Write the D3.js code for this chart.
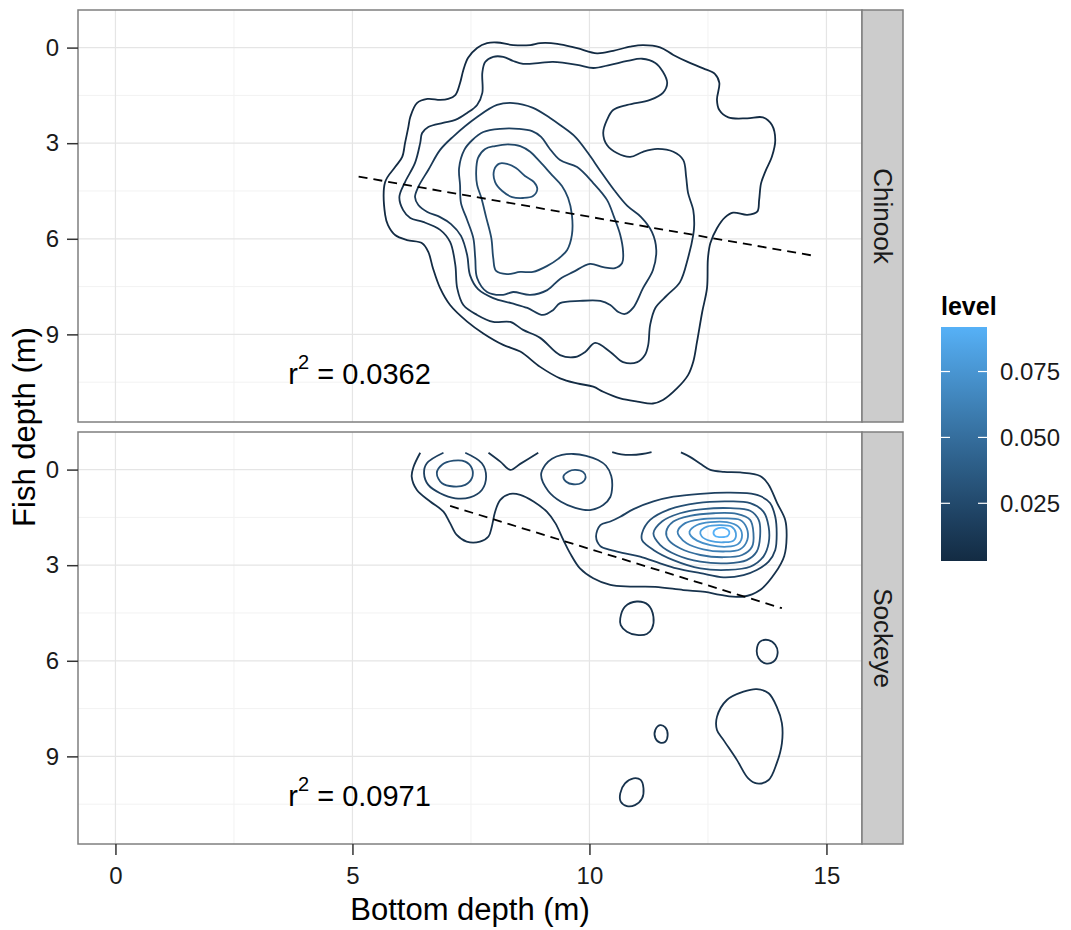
<!DOCTYPE html>
<html>
<head>
<meta charset="utf-8">
<script src="https://cdn.jsdelivr.net/npm/d3@7"></script>
<style>
  body { margin: 0; background: #fff; }
  svg text { font-family: "Liberation Sans", Arial, sans-serif; }
</style>
</head>
<body>
<div id="chart"></div>
<script>
// tick values
const xTicks = [0, 5, 10, 15];
const xMinor = [2.5, 7.5, 12.5];
const yTicks = [0, 3, 6, 9];
const yMinor = [1.5, 4.5, 7.5, 10.5];
const levelBreaks = [0.025, 0.05, 0.075];

// Chinook contour rings, [bottom depth, fish depth]
const chinook_005 = [[5.69,5.25],[5.69,4.22],[5.90,3.75],[6.05,3.43],[6.11,2.99],[6.18,2.49],[6.22,2.18],[6.36,1.74],[6.58,1.61],[6.85,1.64],[7.02,1.61],[7.17,1.49],[7.27,1.11],[7.34,0.70],[7.44,0.32],[7.63,0.01],[7.84,-0.14],[8.05,-0.16],[8.39,-0.08],[8.75,-0.08],[8.96,-0.14],[9.32,-0.12],[9.74,0.02],[10.16,0.18],[10.50,0.10],[10.86,-0.03],[11.13,-0.08],[11.49,-0.01],[11.77,0.23],[12.06,0.44],[12.40,0.65],[12.65,0.83],[12.74,1.11],[12.69,1.64],[12.74,1.96],[12.93,2.19],[13.33,2.22],[13.66,2.19],[13.85,2.43],[13.92,2.90],[13.85,3.42],[13.71,3.89],[13.62,4.26],[13.58,4.78],[13.54,5.15],[13.33,5.25],[13.03,5.18],[12.86,5.33],[12.69,5.67],[12.55,6.14],[12.50,6.61],[12.48,7.55],[12.38,8.29],[12.27,9.23],[12.19,9.86],[12.08,10.28],[11.85,10.69],[11.55,11.06],[11.34,11.17],[11.01,11.11],[10.65,11.01],[10.29,10.80],[10.08,10.64],[9.74,10.54],[9.38,10.38],[8.96,10.02],[8.54,9.54],[8.18,9.33],[7.76,8.97],[7.42,8.60],[7.06,8.08],[6.85,7.55],[6.70,6.93],[6.60,6.41],[6.47,6.14],[6.15,6.04],[5.90,5.88],[5.75,5.57]];
const chinook_010 = [[5.99,4.69],[6.11,4.22],[6.32,3.62],[6.43,2.99],[6.47,2.68],[6.60,2.49],[6.91,2.36],[7.17,2.27],[7.42,2.05],[7.63,1.80],[7.74,1.42],[7.74,0.79],[7.80,0.45],[7.97,0.29],[8.18,0.29],[8.39,0.42],[8.60,0.51],[8.96,0.48],[9.23,0.45],[9.74,0.54],[10.08,0.64],[10.44,0.54],[10.80,0.42],[11.11,0.35],[11.39,0.48],[11.55,0.76],[11.64,1.11],[11.55,1.42],[11.28,1.64],[10.80,1.80],[10.50,1.96],[10.37,2.27],[10.29,2.68],[10.37,3.06],[10.58,3.31],[10.86,3.43],[11.13,3.27],[11.43,3.18],[11.77,3.27],[11.98,3.53],[12.04,4.06],[12.08,4.56],[12.19,5.10],[12.21,5.57],[12.19,5.88],[12.08,6.60],[11.91,7.36],[11.64,7.77],[11.39,8.17],[11.28,8.71],[11.24,9.33],[11.17,9.65],[11.01,9.87],[10.71,9.87],[10.44,9.55],[10.12,9.27],[9.91,9.55],[9.70,9.71],[9.38,9.65],[8.96,9.11],[8.60,8.86],[8.33,8.61],[7.97,8.61],[7.63,8.39],[7.34,8.08],[7.21,7.55],[7.17,6.82],[7.06,6.10],[6.85,5.72],[6.49,5.47],[6.22,5.35],[6.07,5.10]];
const chinook_015 = [[6.32,4.69],[6.39,4.37],[6.60,3.84],[6.85,3.21],[7.12,2.80],[7.63,2.18],[8.05,1.80],[8.39,1.74],[8.81,1.89],[9.17,2.21],[9.38,2.43],[9.70,2.80],[9.97,3.31],[10.23,3.87],[10.52,4.47],[10.80,4.97],[11.09,5.32],[11.32,5.79],[11.41,6.35],[11.34,6.98],[11.13,7.55],[10.92,8.17],[10.75,8.36],[10.61,8.30],[10.44,8.08],[10.23,7.95],[9.80,7.95],[9.38,8.02],[9.23,8.24],[9.02,8.39],[8.69,8.17],[8.35,8.02],[7.97,7.86],[7.65,7.58],[7.48,7.14],[7.42,6.51],[7.29,5.91],[7.08,5.54],[6.85,5.32],[6.58,5.16],[6.39,4.94]];
const chinook_020 = [[7.27,4.31],[7.25,3.78],[7.36,3.21],[7.53,2.90],[7.76,2.65],[8.12,2.55],[8.50,2.55],[8.79,2.62],[8.98,2.80],[9.15,3.15],[9.38,3.53],[9.74,3.75],[10.08,4.25],[10.37,4.78],[10.52,5.32],[10.65,5.88],[10.71,6.41],[10.69,6.76],[10.54,6.92],[10.29,6.89],[10.01,6.79],[9.66,7.04],[9.38,7.26],[9.11,7.61],[8.75,7.76],[8.39,7.67],[8.18,7.76],[7.84,7.67],[7.63,7.23],[7.59,6.60],[7.55,5.98],[7.42,5.41],[7.29,4.88]];
const chinook_025 = [[7.61,3.90],[7.65,3.46],[7.80,3.18],[8.01,3.09],[8.28,3.04],[8.54,3.09],[8.75,3.27],[8.96,3.59],[9.21,4.00],[9.42,4.34],[9.55,4.72],[9.63,5.25],[9.63,5.88],[9.53,6.35],[9.34,6.63],[9.11,6.85],[8.81,7.04],[8.54,7.04],[8.26,7.11],[8.03,7.01],[7.97,6.60],[7.93,5.98],[7.82,5.32],[7.72,4.72],[7.63,4.31]];
const chinook_030 = [[7.99,3.84],[8.10,3.64],[8.26,3.65],[8.45,3.78],[8.64,4.03],[8.83,4.22],[8.90,4.44],[8.81,4.66],[8.60,4.72],[8.37,4.69],[8.16,4.50],[8.01,4.22]];

// Sockeye contour rings (open ones are cut at the density grid edge)
const sockeye_010_main = [[6.43,-0.53],[6.29,-0.09],[6.25,0.22],[6.36,0.64],[6.64,1.00],[6.92,1.32],[7.06,1.68],[7.20,2.05],[7.41,2.26],[7.69,2.26],[7.87,2.10],[7.94,1.79],[8.01,1.32],[8.12,0.95],[8.33,0.76],[8.54,0.79],[8.82,1.00],[9.10,1.32],[9.28,1.68],[9.45,2.21],[9.59,2.62],[9.80,3.10],[10.08,3.41],[10.44,3.62],[10.86,3.67],[11.39,3.68],[11.98,3.78],[12.44,3.84],[12.76,3.93],[13.24,3.99],[13.60,3.78],[13.92,3.24],[14.11,2.71],[14.16,2.11],[14.13,1.58],[13.96,1.05],[13.77,0.45],[13.60,0.20],[13.18,0.09],[12.84,0.07],[12.55,0.01],[12.34,-0.18],[12.12,-0.40],[11.93,-0.54]];
const sockeye_010_v = [[7.87,-0.53],[8.12,-0.25],[8.33,0.01],[8.54,-0.18],[8.92,-0.53]];
const sockeye_010_top = [[10.48,-0.55],[10.67,-0.48],[10.88,-0.46],[11.11,-0.49],[11.31,-0.55]];
const sockeye_010_a = [[10.65,4.67],[10.75,4.30],[11.00,4.14],[11.24,4.25],[11.35,4.62],[11.32,4.98],[11.21,5.16],[11.00,5.19],[10.79,5.09],[10.66,4.88]];
const sockeye_010_b = [[13.53,5.66],[13.60,5.40],[13.78,5.35],[13.92,5.50],[13.97,5.76],[13.88,6.03],[13.71,6.08],[13.57,5.92]];
const sockeye_010_c = [[11.39,8.17],[11.49,8.02],[11.60,8.09],[11.65,8.33],[11.60,8.54],[11.49,8.57],[11.39,8.43]];
const sockeye_010_d = [[12.69,7.76],[12.90,7.23],[13.25,6.97],[13.53,6.89],[13.78,7.02],[13.95,7.44],[14.06,7.96],[14.06,8.59],[13.95,9.22],[13.78,9.74],[13.53,9.85],[13.35,9.69],[13.11,9.11],[12.83,8.49],[12.69,8.17]];
const sockeye_010_e = [[10.65,10.16],[10.75,9.85],[10.93,9.69],[11.08,9.74],[11.14,10.00],[11.11,10.32],[10.96,10.53],[10.79,10.56],[10.66,10.42]];
const sockeye_020_left = [[6.92,-0.53],[6.57,-0.20],[6.51,0.11],[6.60,0.48],[6.85,0.74],[7.17,0.90],[7.48,0.87],[7.73,0.64],[7.82,0.22],[7.73,-0.20],[7.38,-0.53]];
const sockeye_020_mid = [[8.98,0.17],[9.07,-0.15],[9.21,-0.34],[9.42,-0.46],[9.66,-0.49],[9.93,-0.43],[10.18,-0.30],[10.35,-0.12],[10.46,0.20],[10.48,0.54],[10.44,0.86],[10.29,1.11],[10.01,1.27],[9.70,1.20],[9.40,1.01],[9.13,0.67]];
const sockeye_020_right = [[10.14,2.11],[10.23,1.74],[10.44,1.63],[10.65,1.48],[10.93,1.24],[11.35,1.00],[11.77,0.85],[12.34,0.76],[12.90,0.72],[13.32,0.74],[13.60,0.83],[13.81,1.05],[13.92,1.48],[13.95,2.00],[13.92,2.52],[13.78,2.89],[13.53,3.15],[13.25,3.31],[12.83,3.38],[12.34,3.25],[11.84,3.10],[11.49,2.94],[11.07,2.73],[10.72,2.62],[10.44,2.52],[10.23,2.40]];
const sockeye_030_left = [[6.78,0.11],[6.89,-0.15],[7.13,-0.28],[7.38,-0.25],[7.52,-0.04],[7.52,0.27],[7.38,0.48],[7.13,0.53],[6.89,0.43]];
const sockeye_030_mid = [[9.45,0.22],[9.56,0.06],[9.70,0.01],[9.87,0.08],[9.92,0.24],[9.84,0.41],[9.66,0.46],[9.51,0.38]];
const sockeye_030 = [[11.11,2.00],[11.28,1.58],[11.70,1.24],[12.27,1.05],[12.90,1.00],[13.39,1.05],[13.67,1.32],[13.78,1.79],[13.78,2.31],[13.67,2.73],[13.39,3.05],[12.90,3.15],[12.34,3.10],[11.77,2.84],[11.35,2.52],[11.11,2.21]];
const sockeye_040 = [[11.35,2.00],[11.53,1.63],[11.91,1.37],[12.40,1.24],[12.97,1.21],[13.39,1.29],[13.57,1.58],[13.60,2.10],[13.53,2.57],[13.32,2.84],[12.90,2.94],[12.34,2.89],[11.84,2.68],[11.49,2.36]];
const sockeye_050 = [[11.62,1.95],[11.77,1.63],[12.12,1.45],[12.62,1.37],[13.11,1.39],[13.39,1.58],[13.46,2.00],[13.43,2.42],[13.22,2.68],[12.83,2.75],[12.34,2.68],[11.91,2.47],[11.67,2.21]];
const sockeye_060 = [[11.86,1.95],[12.02,1.68],[12.34,1.56],[12.76,1.53],[13.18,1.58],[13.32,1.84],[13.33,2.21],[13.18,2.50],[12.83,2.57],[12.40,2.50],[12.05,2.31],[11.90,2.10]];
const sockeye_070 = [[12.11,1.95],[12.27,1.74],[12.55,1.65],[12.90,1.65],[13.14,1.79],[13.22,2.05],[13.14,2.33],[12.90,2.42],[12.55,2.37],[12.27,2.23],[12.14,2.08]];
const sockeye_080 = [[12.34,1.95],[12.48,1.79],[12.76,1.74],[13.00,1.79],[13.09,2.00],[13.04,2.23],[12.83,2.28],[12.55,2.24],[12.37,2.10]];
const sockeye_090 = [[12.62,1.95],[12.72,1.84],[12.86,1.84],[12.95,1.95],[12.92,2.08],[12.79,2.12],[12.65,2.08]];

// fitted lines (end points) and r squared labels
const chinookFit = [[5.13, 4.05], [14.76, 6.54]];
const sockeyeFit = [[7.06, 1.14], [14.06, 4.35]];
const rsqLabels = ["0.0362", "0.0971"];
const rsqPos = [5.15, 10.2];

const chinookContours = [
  { level: 0.005, closed: true, pts: chinook_005 },
  { level: 0.010, closed: true, pts: chinook_010 },
  { level: 0.015, closed: true, pts: chinook_015 },
  { level: 0.020, closed: true, pts: chinook_020 },
  { level: 0.025, closed: true, pts: chinook_025 },
  { level: 0.030, closed: true, pts: chinook_030 }
];
const sockeyeContours = [
  { level: 0.01, closed: false, pts: sockeye_010_main },
  { level: 0.01, closed: false, pts: sockeye_010_v },
  { level: 0.01, closed: false, pts: sockeye_010_top },
  { level: 0.01, closed: true, pts: sockeye_010_a },
  { level: 0.01, closed: true, pts: sockeye_010_b },
  { level: 0.01, closed: true, pts: sockeye_010_c },
  { level: 0.01, closed: true, pts: sockeye_010_d },
  { level: 0.01, closed: true, pts: sockeye_010_e },
  { level: 0.02, closed: false, pts: sockeye_020_left },
  { level: 0.02, closed: true, pts: sockeye_020_mid },
  { level: 0.02, closed: true, pts: sockeye_020_right },
  { level: 0.03, closed: true, pts: sockeye_030_left },
  { level: 0.03, closed: true, pts: sockeye_030_mid },
  { level: 0.03, closed: true, pts: sockeye_030 },
  { level: 0.04, closed: true, pts: sockeye_040 },
  { level: 0.05, closed: true, pts: sockeye_050 },
  { level: 0.06, closed: true, pts: sockeye_060 },
  { level: 0.07, closed: true, pts: sockeye_070 },
  { level: 0.08, closed: true, pts: sockeye_080 },
  { level: 0.09, closed: true, pts: sockeye_090 }
];

const panels = [
  { name: "Chinook", contours: chinookContours, fit: chinookFit, r2: rsqLabels[0] },
  { name: "Sockeye", contours: sockeyeContours, fit: sockeyeFit, r2: rsqLabels[1] }
];

const margins = { top: 10, left: 78 };
const panelW = 784, panelH = 412, panelGap = 10, stripW = 41;

const x_scale = d3.scaleLinear().domain([-0.79, 15.75]).range([0, panelW]);
const y_scale = d3.scaleLinear().domain([-1.18, 11.75]).range([0, panelH]);
const colour = d3.scaleLinear()
  .domain([0.005, 0.09])
  .range(["#132B43", "#56B1F7"])
  .interpolate(d3.interpolateLab);

const closedLine = d3.line()
  .x(d => x_scale(d[0])).y(d => y_scale(d[1]))
  .curve(d3.curveCatmullRomClosed.alpha(0.5));
const openLine = d3.line()
  .x(d => x_scale(d[0])).y(d => y_scale(d[1]))
  .curve(d3.curveCatmullRom.alpha(0.5));
const straight = d3.line().x(d => x_scale(d[0])).y(d => y_scale(d[1]));

const svg = d3.select("#chart")
  .append("svg")
  .attr("width", 1071)
  .attr("height", 930);

panels.forEach((p, i) => {
  const top = margins.top + i * (panelH + panelGap);
  const g = svg.append("g").attr("transform", "translate(" + margins.left + "," + top + ")");

  g.append("rect").attr("width", panelW).attr("height", panelH).attr("fill", "#fff");

  // grid
  g.selectAll(".minor-x").data(xMinor).join("line")
    .attr("x1", d => x_scale(d)).attr("x2", d => x_scale(d))
    .attr("y1", 0).attr("y2", panelH)
    .attr("stroke", "#f2f2f2").attr("stroke-width", 1);
  g.selectAll(".minor-y").data(yMinor).join("line")
    .attr("y1", d => y_scale(d)).attr("y2", d => y_scale(d))
    .attr("x1", 0).attr("x2", panelW)
    .attr("stroke", "#f2f2f2").attr("stroke-width", 1);
  g.selectAll(".major-x").data(xTicks).join("line")
    .attr("x1", d => x_scale(d)).attr("x2", d => x_scale(d))
    .attr("y1", 0).attr("y2", panelH)
    .attr("stroke", "#e5e5e5").attr("stroke-width", 1.2);
  g.selectAll(".major-y").data(yTicks).join("line")
    .attr("y1", d => y_scale(d)).attr("y2", d => y_scale(d))
    .attr("x1", 0).attr("x2", panelW)
    .attr("stroke", "#e5e5e5").attr("stroke-width", 1.2);

  g.append("clipPath").attr("id", "clip" + i)
    .append("rect").attr("width", panelW).attr("height", panelH);
  const plot = g.append("g").attr("clip-path", "url(#clip" + i + ")");

  plot.selectAll("path.contour").data(p.contours).join("path")
    .attr("class", "contour")
    .attr("d", d => (d.closed ? closedLine : openLine)(d.pts))
    .attr("fill", "none")
    .attr("stroke", d => colour(d.level))
    .attr("stroke-width", 1.8);

  plot.append("path").datum(p.fit)
    .attr("d", straight)
    .attr("fill", "none")
    .attr("stroke", "#000")
    .attr("stroke-width", 1.8)
    .attr("stroke-dasharray", "9,6");

  const lbl = g.append("text")
    .attr("x", x_scale(rsqPos[0]))
    .attr("y", y_scale(rsqPos[1]) + 11)
    .attr("text-anchor", "middle")
    .style("font-size", "29px")
    .attr("fill", "#000");
  lbl.append("tspan").text("r");
  lbl.append("tspan").attr("dy", -15).style("font-size", "20px").text("2");
  lbl.append("tspan").attr("dy", 15).text(" = " + p.r2);

  g.append("rect").attr("width", panelW).attr("height", panelH)
    .attr("fill", "none").attr("stroke", "#7f7f7f").attr("stroke-width", 1.5);

  // facet strip
  g.append("rect").attr("x", panelW).attr("width", stripW).attr("height", panelH)
    .attr("fill", "#cccccc").attr("stroke", "#7f7f7f").attr("stroke-width", 1.5);
  g.append("text")
    .attr("transform", "translate(" + (panelW + stripW / 2) + "," + (panelH / 2) + ") rotate(90)")
    .attr("text-anchor", "middle")
    .attr("dominant-baseline", "central")
    .style("font-size", "26px")
    .attr("fill", "#1a1a1a")
    .text(p.name);

  const yAxis = g.append("g")
    .call(d3.axisLeft(y_scale).tickValues(yTicks).tickSize(11).tickPadding(8));
  yAxis.select(".domain").remove();
  yAxis.selectAll(".tick line").attr("stroke", "#333").attr("stroke-width", 1.5);
  yAxis.selectAll(".tick text").style("font-size", "24px").attr("fill", "#1a1a1a");

  if (i === panels.length - 1) {
    const xAxis = g.append("g").attr("transform", "translate(0," + panelH + ")")
      .call(d3.axisBottom(x_scale).tickValues(xTicks).tickSize(11).tickPadding(12));
    xAxis.select(".domain").remove();
    xAxis.selectAll(".tick line").attr("stroke", "#333").attr("stroke-width", 1.5);
    xAxis.selectAll(".tick text").style("font-size", "24px").attr("fill", "#1a1a1a");
  }
});

// axis titles
svg.append("text")
  .attr("x", margins.left + panelW / 2)
  .attr("y", 920)
  .attr("text-anchor", "middle")
  .style("font-size", "31px")
  .text("Bottom depth (m)");
svg.append("text")
  .attr("transform", "translate(35," + (margins.top + panelH + panelGap / 2) + ") rotate(-90)")
  .attr("text-anchor", "middle")
  .style("font-size", "31px")
  .text("Fish depth (m)");

// colour bar legend
const legScale = d3.scaleLinear().domain([0.005, 0.09]).range([556, 332]);
const barX = 941, barW = 46;
const grad = svg.append("defs").append("linearGradient")
  .attr("id", "levelGrad").attr("x1", 0).attr("y1", 1).attr("x2", 0).attr("y2", 0);
d3.range(0, 1.0001, 0.1).forEach(t => {
  grad.append("stop").attr("offset", t)
    .attr("stop-color", colour(0.005 + t * 0.085));
});
svg.append("rect")
  .attr("x", barX).attr("y", legScale(0.09) - 5)
  .attr("width", barW).attr("height", legScale(0.005) - legScale(0.09) + 10)
  .attr("fill", "url(#levelGrad)");
svg.selectAll(".legtick-l").data(levelBreaks).join("line")
  .attr("x1", barX).attr("x2", barX + 9)
  .attr("y1", d => legScale(d)).attr("y2", d => legScale(d))
  .attr("stroke", "#fff").attr("stroke-width", 1.2);
svg.selectAll(".legtick-r").data(levelBreaks).join("line")
  .attr("x1", barX + barW - 9).attr("x2", barX + barW)
  .attr("y1", d => legScale(d)).attr("y2", d => legScale(d))
  .attr("stroke", "#fff").attr("stroke-width", 1.2);
svg.selectAll(".leglabel").data(levelBreaks).join("text")
  .attr("x", 1000)
  .attr("y", d => legScale(d))
  .attr("dominant-baseline", "central")
  .style("font-size", "24px")
  .attr("fill", "#1a1a1a")
  .text(d => d3.format(".3f")(d));
svg.append("text")
  .attr("x", barX).attr("y", 315)
  .style("font-size", "25px").style("font-weight", "bold")
  .text("level");
</script>
</body>
</html>
